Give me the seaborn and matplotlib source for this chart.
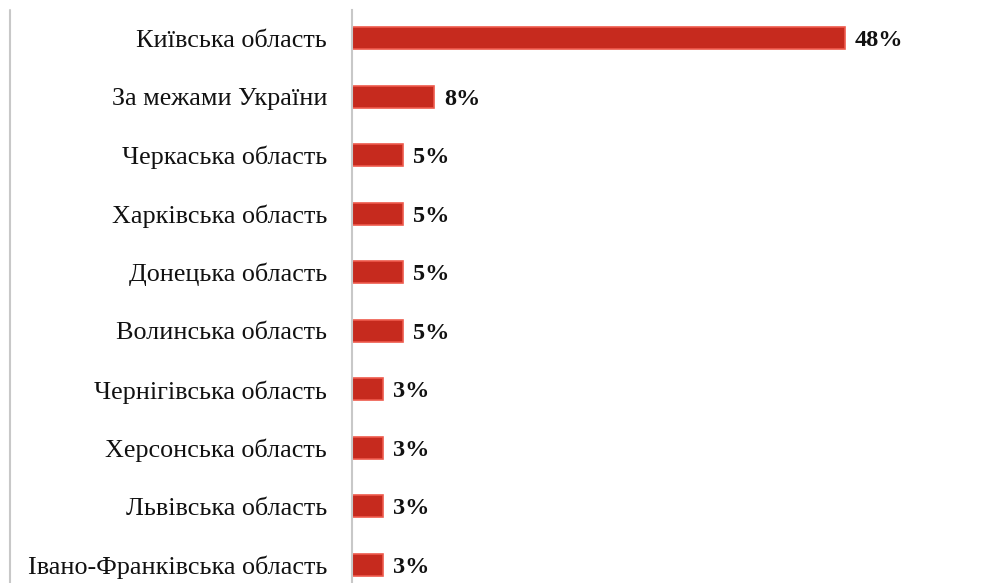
import numpy as np
import pandas as pd
import seaborn as sns
from matplotlib import pyplot as plt
from matplotlib.lines import Line2D

regions = [
    "Київська область", "За межами України", "Черкаська область",
    "Харківська область", "Донецька область", "Волинська область",
    "Чернігівська область", "Херсонська область", "Львівська область",
    "Івано-Франківська область",
]
shares = [48, 8, 5, 5, 5, 5, 3, 3, 3, 3]

df = pd.DataFrame({"region": regions, "share": shares})

sns.set_style("white")
plt.rcParams["font.family"] = ["Liberation Serif", "DejaVu Serif"]

fig = plt.figure(figsize=(9.89, 5.83), dpi=100)
ax = fig.add_axes([352 / 989, 0.0, 596 / 989, 1 - 10 / 583])

sns.barplot(data=df, x="share", y="region", orient="h", ax=ax,
            color="#c62a1e", edgecolor="#ee5a4c", linewidth=1.2,
            width=0.38, saturation=1)

for i, v in enumerate(shares):
    ax.text(v + 0.95, i, f"{v}%", va="center_baseline", ha="left",
            fontsize=17.5, fontweight="bold", color="#111111")

ax.set_xlim(0, 58)
ax.set_ylim(9.31, -0.48)
ax.set_xlabel("")
ax.set_ylabel("")
ax.set_xticks([])
ax.tick_params(axis="y", length=0, pad=18, labelsize=18.8, labelcolor="#111111")
for s in ["top", "right", "bottom"]:
    ax.spines[s].set_visible(False)
ax.spines["left"].set_color("#c8c8c8")
ax.spines["left"].set_linewidth(1.5)

fig.add_artist(Line2D([10 / 989, 10 / 989], [0, 1 - 10 / 583],
                      transform=fig.transFigure, color="#c8c8c8", lw=1.5))

fig.savefig("out.png", dpi=100)
plt.close(fig)
